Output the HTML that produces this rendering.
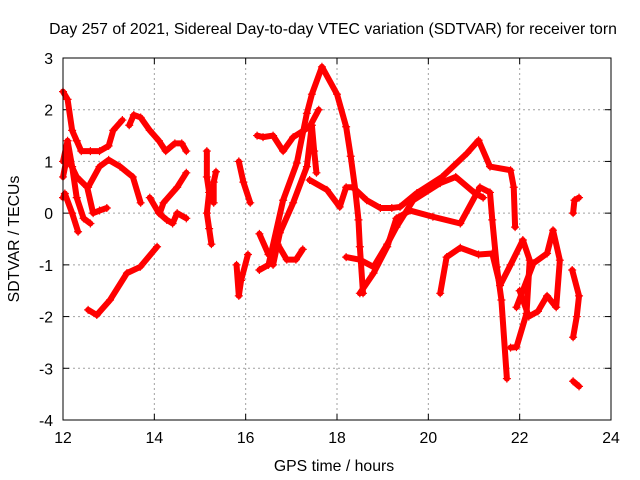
<!DOCTYPE html>
<html><head><meta charset="utf-8"><style>
html,body{margin:0;padding:0;background:#fff;}
svg{display:block;font-family:"Liberation Sans",sans-serif;}
</style></head><body>
<svg id="chart" width="640" height="480">
<text x="333" y="34" font-size="15.8" text-anchor="middle">Day 257 of 2021, Sidereal Day-to-day VTEC variation (SDTVAR) for receiver torn</text>
<text x="334" y="471" font-size="15.8" text-anchor="middle">GPS time / hours</text>
<text transform="translate(19,239) rotate(-90)" font-size="15.8" text-anchor="middle">SDTVAR / TECUs</text>
<g id="grid"></g><g id="axes"></g><g id="marks"></g>
<rect x="63" y="58" width="548" height="362" fill="none" stroke="#000" stroke-width="1"/>
</svg>
<script>
const xTicks=[12,14,16,18,20,22,24];
const yTicks=[-4,-3,-2,-1,0,1,2,3];
const seriesA=[[12.0,2.35],[12.1,2.2],[12.2,1.6],[12.3,1.4],[12.4,1.2],[12.6,1.2],[12.8,1.2],[13.0,1.3],[13.1,1.6],[13.3,1.8]];
const seriesA2=[[13.45,1.7],[13.55,1.9],[13.7,1.85],[13.9,1.6],[14.1,1.4],[14.25,1.2],[14.45,1.35],[14.6,1.35],[14.7,1.2]];
const seriesB=[[12.0,0.7],[12.09,1.09],[12.3,0.7],[12.53,0.5],[12.66,0.0],[12.8,0.05],[12.96,0.1]];
const seriesC=[[12.55,0.5],[12.8,0.9],[13.0,1.03],[13.25,0.9],[13.53,0.7],[13.7,0.2]];
const seriesD=[[12.0,0.3],[12.04,0.38],[12.2,0.0],[12.33,-0.36]];
const seriesE=[[12.0,1.0],[12.1,1.4],[12.2,0.9],[12.3,0.3],[12.45,-0.1],[12.6,-0.2]];
const seriesF=[[12.55,-1.87],[12.74,-1.97],[13.03,-1.68],[13.4,-1.16],[13.69,-1.04],[14.06,-0.65]];
const seriesG=[[13.9,0.3],[14.1,0.0],[14.27,-0.13],[14.4,-0.2],[14.5,0.0],[14.7,-0.1]];
const seriesH=[[14.12,0.0],[14.2,0.2],[14.5,0.5],[14.7,0.78]];
const seriesI=[[15.15,1.2],[15.15,0.7],[15.2,0.4],[15.15,0.0],[15.2,-0.3],[15.25,-0.6]];
const seriesI2=[[15.3,0.2],[15.3,0.6],[15.35,0.8]];
const seriesJ=[[15.85,1.0],[15.95,0.6],[16.1,0.2]];
const seriesK=[[15.8,-1.0],[15.85,-1.6],[15.9,-1.3],[16.05,-0.8]];
const seriesL=[[16.3,-0.4],[16.5,-0.8],[16.7,-0.6],[16.9,-0.9],[17.1,-0.9],[17.25,-0.7]];
const seriesM=[[16.3,-1.1],[16.5,-1.0],[16.82,0.25],[17.12,0.97],[17.34,1.93],[17.45,2.3],[17.67,2.83],[18.0,2.3],[18.2,1.67],[18.3,1.1],[18.4,0.45],[18.47,-0.13],[18.5,-0.65],[18.57,-1.55]];
const seriesN=[[16.6,-1.0],[16.75,-0.38],[17.04,0.2],[17.34,0.9],[17.45,1.7],[17.5,1.2],[17.55,0.78]];
const seriesO=[[16.25,1.5],[16.38,1.47],[16.6,1.5],[16.82,1.2],[17.04,1.47],[17.4,1.67],[17.6,2.0]];
const seriesP=[[17.4,0.64],[17.78,0.45],[18.06,0.12],[18.2,0.5],[18.35,0.5],[18.65,0.25],[18.95,0.1],[19.2,0.1],[19.38,0.12],[19.75,0.39],[20.3,0.7],[20.85,1.16],[21.1,1.41],[21.35,0.9],[21.8,0.83],[21.87,0.5],[21.9,-0.27]];
const seriesQ=[[18.2,-0.85],[18.5,-0.9],[18.8,-1.04],[19.1,-0.6],[19.3,-0.27],[19.67,0.25],[20.26,0.58],[20.6,0.7],[21.0,0.4],[21.2,0.3]];
const seriesR=[[18.5,-1.55],[18.8,-1.16],[19.1,-0.65],[19.3,-0.1],[19.6,0.05],[20.1,-0.07],[20.7,-0.2],[21.13,0.5],[21.35,0.4],[21.4,-0.13],[21.5,-1.04],[21.6,-1.68],[21.72,-3.2]];
const seriesS=[[20.26,-1.55],[20.4,-0.85],[20.7,-0.67],[21.1,-0.8],[21.4,-0.78],[21.57,-1.4],[21.8,-1.0],[22.07,-0.52],[22.22,-0.91],[22.15,-1.94],[21.93,-2.59],[21.8,-2.6]];
const seriesT=[[21.93,-1.82],[22.3,-0.97],[22.6,-0.78],[22.73,-0.33],[22.88,-0.91],[22.8,-1.82],[22.6,-1.6],[22.4,-1.9],[22.2,-2.0],[22.0,-1.5]];
const seriesU=[[23.17,0.0],[23.2,0.25],[23.3,0.3]];
const seriesV=[[23.15,-1.1],[23.3,-1.6],[23.25,-2.0],[23.17,-2.4]];
const seriesW=[[23.17,-3.25],[23.3,-3.35]];
const allSeries=[seriesA,seriesA2,seriesB,seriesC,seriesD,seriesE,seriesF,seriesG,seriesH,seriesI,seriesI2,seriesJ,seriesK,seriesL,seriesM,seriesN,seriesO,seriesP,seriesQ,seriesR,seriesS,seriesT,seriesU,seriesV,seriesW];
const X0=63,X1=611,Y0=420,Y1=58;
function xs(t){return X0+(t-12)/(24-12)*(X1-X0);}
function ys(v){return Y0-(v+4)/7*(Y0-Y1);}
const NS='http://www.w3.org/2000/svg';
const grid=document.getElementById('grid'),axes=document.getElementById('axes'),marks=document.getElementById('marks');
function mk(tag,attrs,parent){const e=document.createElementNS(NS,tag);for(const k in attrs)e.setAttribute(k,attrs[k]);parent.appendChild(e);return e;}
xTicks.forEach(t=>{const x=xs(t);
 if(t>12&&t<24){const g=mk('line',{x1:x,x2:x,y1:Y1,y2:Y0,stroke:'#a0a0a0','stroke-dasharray':'2,3'},grid);}
 mk('line',{x1:x,x2:x,y1:Y0,y2:Y0-6,stroke:'#000'},axes);mk('line',{x1:x,x2:x,y1:Y1,y2:Y1+6,stroke:'#000'},axes);
 const tx=mk('text',{x:x,y:Y0+23,'font-size':15.8,'text-anchor':'middle'},axes);tx.textContent=t;
 });
yTicks.forEach(v=>{const y=ys(v);
 if(v>-4&&v<3){const g=mk('line',{x1:X0,x2:X1,y1:y,y2:y,stroke:'#a0a0a0','stroke-dasharray':'2,3'},grid);}
 mk('line',{x1:X0,x2:X0+6,y1:y,y2:y,stroke:'#000'},axes);mk('line',{x1:X1,x2:X1-6,y1:y,y2:y,stroke:'#000'},axes);
 const tx=mk('text',{x:X0-10,y:y+6,'font-size':15.8,'text-anchor':'end'},axes);tx.textContent=v;
 });
allSeries.forEach((s,i)=>{
 const pl=mk('polyline',{points:s.map(p=>xs(p[0])+','+ys(p[1])).join(' '),fill:'none',stroke:'#f00','stroke-width':6,'stroke-linejoin':'round','stroke-linecap':'round'},marks);
 
 
 s.forEach(p=>{const x=xs(p[0]),y=ys(p[1]);
  const m=mk('path',{d:`M${x-4},${y}H${x+4}M${x},${y-4}V${y+4}`,stroke:'#f00','stroke-width':1.2},marks);
  
  });
});
</script>
</body></html>
